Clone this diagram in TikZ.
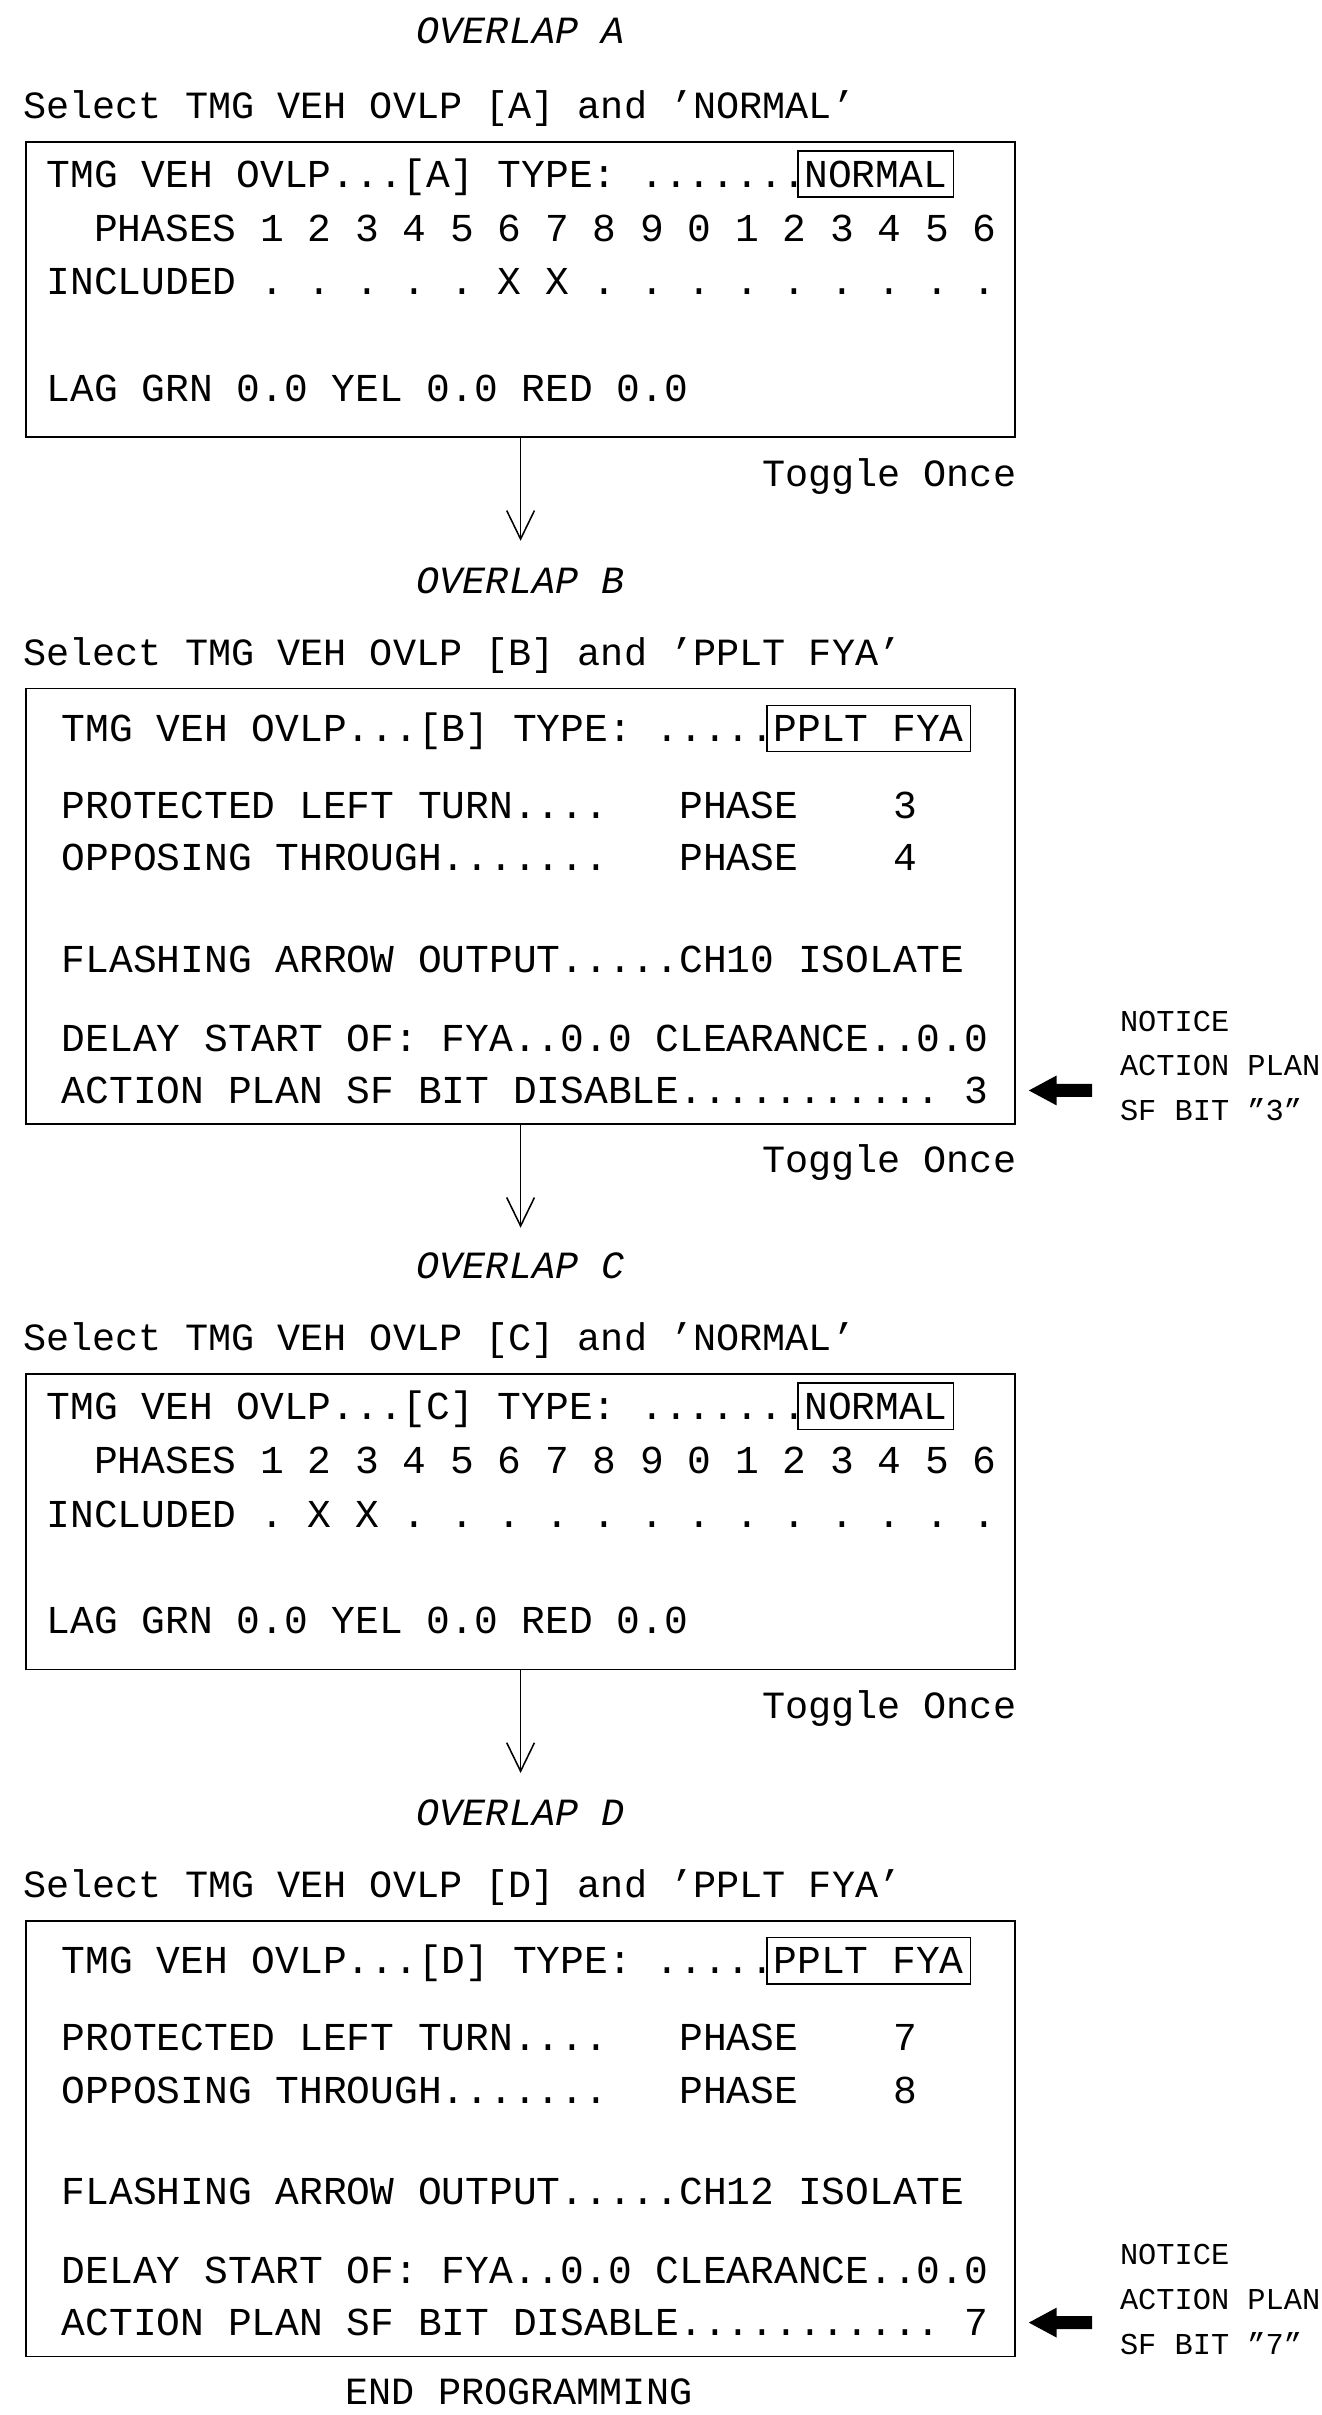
\documentclass[tikz,border=0pt]{standalone}
\usepackage{fontspec}
\setmainfont{Liberation Mono}
\usepackage{tikz}
\frenchspacing

\begin{document}
\begin{tikzpicture}[x=1pt,y=-1pt]
\tikzstyle{every node}+=[inner sep=0pt]
\tikzstyle{scr}=[font=\fontsize{25.7}{30}\selectfont]
\tikzstyle{lbl}=[font=\fontsize{25}{30}\selectfont]
\tikzstyle{ttl}=[font=\fontsize{25}{30}\selectfont\itshape]
\tikzstyle{note}=[font=\fontsize{19.7}{29}\selectfont, align=left, anchor=west]
\tikzstyle{screen}=[draw, black, line width=1.2pt, minimum width=642pt]
\tikzstyle{typebox}=[draw, black, line width=1pt, minimum height=30pt, scr]
\useasboundingbox (0,0) rectangle (858,1568);
% overlap A
\node[ttl] (ovlA) at (338,20) {OVERLAP A};
\node[lbl, anchor=base west] (selA) at (15,77) {Select TMG VEH OVLP [A] and 'NORMAL'};
\node[screen, minimum height=192pt] (scrA) at (338,188) {};
\node[scr, anchor=base west] (tmgA) at (30,121.5) {TMG VEH OVLP...[A] TYPE: .......};
\node[typebox, minimum width=101pt] (typA) at (568.5,113) {NORMAL};
\node[scr, anchor=base west] (phsA) at (30,156.5) {~~PHASES 1 2 3 4 5 6 7 8 9 0 1 2 3 4 5 6};
\node[scr, anchor=base west] (incA) at (30,191.5) {INCLUDED . . . . . X X . . . . . . . . .};
\node[scr, anchor=base west] (lagA) at (30,260.5) {LAG GRN 0.0 YEL 0.0 RED 0.0};
\coordinate (tipA) at (338,350);
\draw [line width=1pt] (scrA.south) -- (tipA);
\draw [line width=1pt] (tipA) ++(-9,-18.5) -- (tipA) -- ++(9,-18.5);
\node[lbl, anchor=base east] (togA) at (660,316) {Toggle Once};
% overlap B
\node[ttl] (ovlB) at (338,377) {OVERLAP B};
\node[lbl, anchor=base west] (selB) at (15,432) {Select TMG VEH OVLP [B] and 'PPLT FYA'};
\node[screen, minimum height=283pt] (scrB) at (338,588.5) {};
\node[scr, anchor=base west] (tmgB) at (40,481.5) {TMG VEH OVLP...[B] TYPE: .....};
\node[typebox, minimum width=132pt] (typB) at (564,473) {PPLT FYA};
\node[scr, anchor=base west] (pltB) at (40,531.5) {PROTECTED LEFT TURN....~~~PHASE~~~~3};
\node[scr, anchor=base west] (oppB) at (40,565.5) {OPPOSING THROUGH.......~~~PHASE~~~~4};
\node[scr, anchor=base west] (fyaB) at (40,631.5) {FLASHING ARROW OUTPUT.....CH10 ISOLATE};
\node[scr, anchor=base west] (dlyB) at (40,682.5) {DELAY START OF: FYA..0.0 CLEARANCE..0.0};
\node[scr, anchor=base west] (apsB) at (40,716.5) {ACTION PLAN SF BIT DISABLE........... 3};
\coordinate (ptrB) at (668,708);
\fill [black] (ptrB) -- ++(18,-9.7) -- ++(0,5.5) -- ++(23,0) -- ++(0,8.4) -- ++(-23,0) -- ++(0,5.5) -- cycle;
\node[note] (noteB) at (727,692) {NOTICE\\ACTION PLAN\\SF BIT ''3''};
\coordinate (tipB) at (338,796);
\draw [line width=1pt] (scrB.south) -- (tipB);
\draw [line width=1pt] (tipB) ++(-9,-18.5) -- (tipB) -- ++(9,-18.5);
\node[lbl, anchor=base east] (togB) at (660,761) {Toggle Once};
% overlap C
\node[ttl] (ovlC) at (338,822) {OVERLAP C};
\node[lbl, anchor=base west] (selC) at (15,877) {Select TMG VEH OVLP [C] and 'NORMAL'};
\node[screen, minimum height=192pt] (scrC) at (338,988) {};
\node[scr, anchor=base west] (tmgC) at (30,921.5) {TMG VEH OVLP...[C] TYPE: .......};
\node[typebox, minimum width=101pt] (typC) at (568.5,913) {NORMAL};
\node[scr, anchor=base west] (phsC) at (30,956.5) {~~PHASES 1 2 3 4 5 6 7 8 9 0 1 2 3 4 5 6};
\node[scr, anchor=base west] (incC) at (30,991.5) {INCLUDED . X X . . . . . . . . . . . . .};
\node[scr, anchor=base west] (lagC) at (30,1060.5) {LAG GRN 0.0 YEL 0.0 RED 0.0};
\coordinate (tipC) at (338,1150);
\draw [line width=1pt] (scrC.south) -- (tipC);
\draw [line width=1pt] (tipC) ++(-9,-18.5) -- (tipC) -- ++(9,-18.5);
\node[lbl, anchor=base east] (togC) at (660,1116) {Toggle Once};
% overlap D
\node[ttl] (ovlD) at (338,1177) {OVERLAP D};
\node[lbl, anchor=base west] (selD) at (15,1232) {Select TMG VEH OVLP [D] and 'PPLT FYA'};
\node[screen, minimum height=283pt] (scrD) at (338,1388.5) {};
\node[scr, anchor=base west] (tmgD) at (40,1281.5) {TMG VEH OVLP...[D] TYPE: .....};
\node[typebox, minimum width=132pt] (typD) at (564,1273) {PPLT FYA};
\node[scr, anchor=base west] (pltD) at (40,1331.5) {PROTECTED LEFT TURN....~~~PHASE~~~~7};
\node[scr, anchor=base west] (oppD) at (40,1365.5) {OPPOSING THROUGH.......~~~PHASE~~~~8};
\node[scr, anchor=base west] (fyaD) at (40,1431.5) {FLASHING ARROW OUTPUT.....CH12 ISOLATE};
\node[scr, anchor=base west] (dlyD) at (40,1482.5) {DELAY START OF: FYA..0.0 CLEARANCE..0.0};
\node[scr, anchor=base west] (apsD) at (40,1516.5) {ACTION PLAN SF BIT DISABLE........... 7};
\coordinate (ptrD) at (668,1508);
\fill [black] (ptrD) -- ++(18,-9.7) -- ++(0,5.5) -- ++(23,0) -- ++(0,8.4) -- ++(-23,0) -- ++(0,5.5) -- cycle;
\node[note] (noteD) at (727,1493) {NOTICE\\ACTION PLAN\\SF BIT ''7''};
\node[lbl] (endp) at (337,1553) {END PROGRAMMING};
\end{tikzpicture}
\end{document}
